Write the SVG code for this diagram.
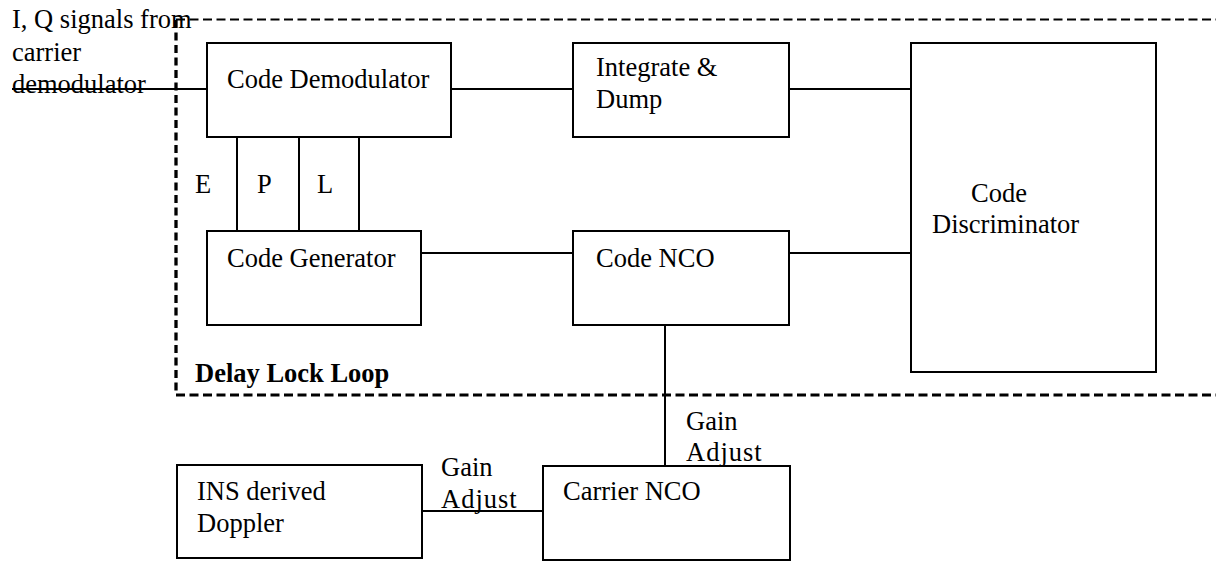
<svg xmlns="http://www.w3.org/2000/svg" width="1216" height="561" viewBox="0 0 1216 561">
<style>
.box{fill:#fff;stroke:#000;stroke-width:2}
.ln{fill:none;stroke:#000;stroke-width:2}
text{font-family:"Liberation Serif","Times New Roman",serif;font-size:26.5px;fill:#000}
.b{font-weight:bold}
.adj{letter-spacing:1px}
</style>
<rect width="1216" height="561" fill="#fff"/>
<g id="dll-frame">
<line x1="176" y1="19.5" x2="1216" y2="19.5" stroke="#000" stroke-width="2.2" stroke-dasharray="9,4.5"/>
<line x1="176" y1="395" x2="1216" y2="395" stroke="#000" stroke-width="3" stroke-dasharray="9,4.5"/>
<line x1="176" y1="20" x2="176" y2="395" stroke="#000" stroke-width="3.3" stroke-dasharray="8,4.5"/>
<text class="b" x="195" y="382">Delay Lock Loop</text>
</g>
<g id="input-label">
<text x="12" y="28">I, Q signals from</text>
<text x="12" y="61">carrier</text>
<text x="12" y="93">demodulator</text>
</g>
<g id="code-demodulator">
<rect class="box" x="207" y="43" width="244" height="94"/>
<text x="227" y="88">Code Demodulator</text>
</g>
<g id="integrate-dump">
<rect class="box" x="573" y="43" width="216" height="94"/>
<text x="596" y="76">Integrate &amp;</text>
<text x="596" y="108">Dump</text>
</g>
<g id="code-discriminator">
<rect class="box" x="911" y="43" width="245" height="329"/>
<text x="971" y="202">Code</text>
<text x="932" y="233">Discriminator</text>
</g>
<g id="code-generator">
<rect class="box" x="207" y="231" width="214" height="94"/>
<text x="227" y="267">Code Generator</text>
</g>
<g id="code-nco">
<rect class="box" x="573" y="231" width="216" height="94"/>
<text x="596" y="267">Code NCO</text>
</g>
<g id="ins-doppler">
<rect class="box" x="177" y="465" width="245" height="93"/>
<text x="197" y="500">INS derived</text>
<text x="197" y="532">Doppler</text>
</g>
<g id="carrier-nco">
<rect class="box" x="543" y="466" width="247" height="94"/>
<text x="563" y="500">Carrier NCO</text>
</g>
<g id="connectors">
<line class="ln" x1="12" y1="89" x2="207" y2="89"/>
<line class="ln" x1="451" y1="89" x2="573" y2="89"/>
<line class="ln" x1="789" y1="89" x2="911" y2="89"/>
<line class="ln" x1="421" y1="253" x2="573" y2="253"/>
<line class="ln" x1="789" y1="253" x2="911" y2="253"/>
<line class="ln" x1="237" y1="137" x2="237" y2="231"/>
<line class="ln" x1="299" y1="137" x2="299" y2="231"/>
<line class="ln" x1="359" y1="137" x2="359" y2="231"/>
<line class="ln" x1="665" y1="325" x2="665" y2="466"/>
<line class="ln" x1="422" y1="511" x2="543" y2="511"/>
<text x="195" y="193">E</text>
<text x="257" y="193">P</text>
<text x="317" y="193">L</text>
<text x="686" y="430">Gain</text>
<text class="adj" x="686" y="461">Adjust</text>
<text x="441" y="476">Gain</text>
<text class="adj" x="441" y="508">Adjust</text>
</g>
</svg>
